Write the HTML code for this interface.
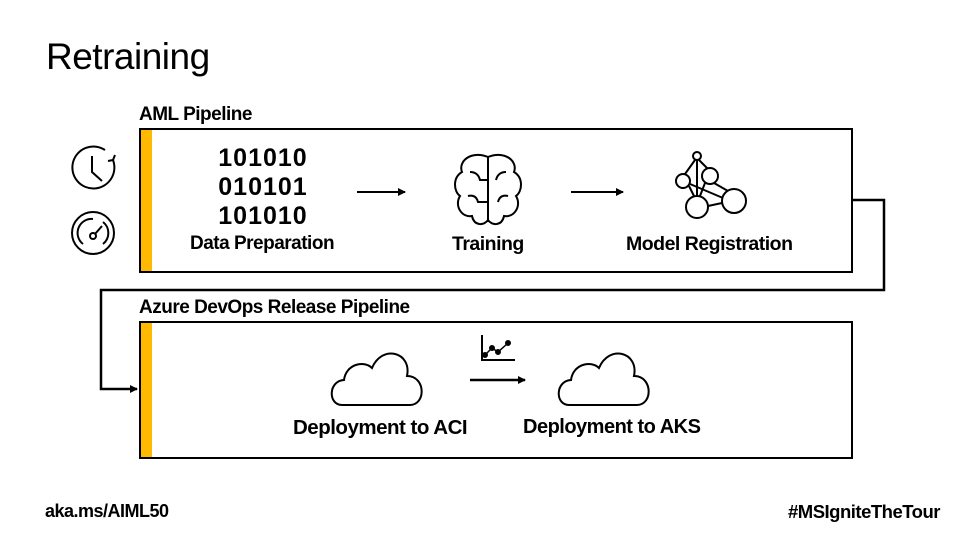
<!DOCTYPE html>
<html><head><style>
body{margin:0;width:960px;height:540px;background:#fff;position:relative;overflow:hidden;font-family:"Liberation Sans",sans-serif;color:#000}
.t{position:absolute;white-space:nowrap}
.lbl{font-size:19.5px;letter-spacing:-0.5px;font-weight:bold}
.bin{font-size:25px;font-weight:bold;letter-spacing:1px;line-height:29px;text-align:center}
</style></head><body>
<div class="t" style="left:46px;top:36px;font-size:37px;letter-spacing:-0.5px">Retraining</div>
<div class="t lbl" style="left:139px;top:104px;font-size:19px">AML Pipeline</div>
<div class="t lbl" style="left:139px;top:297px;font-size:19px">Azure DevOps Release Pipeline</div>
<div class="t" style="left:139px;top:128px;width:710px;height:141px;border:2px solid #000"></div>
<div class="t" style="left:141px;top:130px;width:11px;height:141px;background:#FFB900"></div>
<div class="t" style="left:139px;top:321px;width:710px;height:134px;border:2px solid #000"></div>
<div class="t" style="left:141px;top:323px;width:11px;height:134px;background:#FFB900"></div>
<div class="t bin" style="left:208px;top:144px;width:110px">101010<br>010101<br>101010</div>
<div class="t lbl" style="left:190px;top:233px;font-size:19px">Data Preparation</div>
<div class="t lbl" style="left:452px;top:233px">Training</div>
<div class="t lbl" style="left:626px;top:233px">Model Registration</div>
<div class="t lbl" style="left:293px;top:416px;font-size:20.5px">Deployment to ACI</div>
<div class="t lbl" style="left:523px;top:416px;font-size:20px">Deployment to AKS</div>
<div class="t" style="left:45px;top:501px;font-size:18px;font-weight:bold;letter-spacing:-0.5px">aka.ms/AIML50</div>
<div class="t" style="left:788px;top:501px;font-size:18.5px;font-weight:bold;letter-spacing:-0.5px">#MSIgniteTheTour</div>
<svg width="960" height="540" style="position:absolute;left:0;top:0" fill="none" stroke="#000" stroke-width="2">
<defs><marker id="a" markerWidth="8" markerHeight="8" refX="7" refY="4" orient="auto" markerUnits="userSpaceOnUse"><path d="M0,0L8,4L0,8z" fill="#000" stroke="none"/></marker></defs>
<polyline points="851,200 884,200 884,290 101,290 101,389 137,389" stroke-width="2.5" marker-end="url(#a)"/>
<line x1="357" y1="192" x2="405" y2="192" marker-end="url(#a)"/>
<line x1="571" y1="192" x2="623" y2="192" marker-end="url(#a)"/>
<line x1="470" y1="380" x2="525" y2="380" stroke-width="2.5" marker-end="url(#a)"/>
<path d="M113,160 A21,21 0 1 1 105,150"/><path d="M113,160 l-5,1 M113,160 l2,-5"/>
<path d="M92,156 V172 L102,181"/>
<circle cx="93" cy="233" r="21"/><path d="M83,244 A14,14 0 0 1 93,219 M103,222 A14,14 0 0 1 103,244"/>
<circle cx="93" cy="236" r="3"/><line x1="95" y1="234" x2="102" y2="226"/>
<path d="M488,157 C470,150 458,162 462,172 C452,178 454,192 460,196 C454,206 462,218 472,216 C474,226 484,226 488,220 C492,226 502,226 504,216 C514,218 522,206 516,196 C522,192 524,178 514,172 C518,162 506,150 488,157 Z"/>
<path d="M488,157 V222 M470,172 q8,0 10,8 h8 M506,172 q-8,0 -10,8 M468,196 q8,-2 10,6 h10 M508,196 q-8,-2 -10,6"/>
<circle cx="697" cy="156" r="4"/><circle cx="683" cy="181" r="7"/><circle cx="710" cy="176" r="8"/><circle cx="734" cy="201" r="12"/><circle cx="697" cy="207" r="11"/>
<path d="M695,160 L685,174 M699,160 L707,168 M697,160 V196 M690,184 L723,198 M689,186 L694,196 M714,183 L728,191 M705,183 L700,196 M722,203 L708,206"/>
<path d="M342,405 C328,405 328,381 344,380 C346,364 364,360 372,368 C382,344 412,352 407,376 C426,376 426,405 410,405 Z"/>
<path d="M569,405 C555,405 555,381 571,380 C573,364 591,360 599,368 C609,344 639,352 634,376 C653,376 653,405 637,405 Z"/>
<path d="M482,335 V360 H515"/><path d="M485,355 L492,348 L498,352 L508,343" stroke-width="1.5"/>
<circle cx="485" cy="355" r="2" fill="#000"/><circle cx="492" cy="348" r="2" fill="#000"/><circle cx="498" cy="352" r="2" fill="#000"/><circle cx="508" cy="343" r="2" fill="#000"/>
</svg>
</body></html>
